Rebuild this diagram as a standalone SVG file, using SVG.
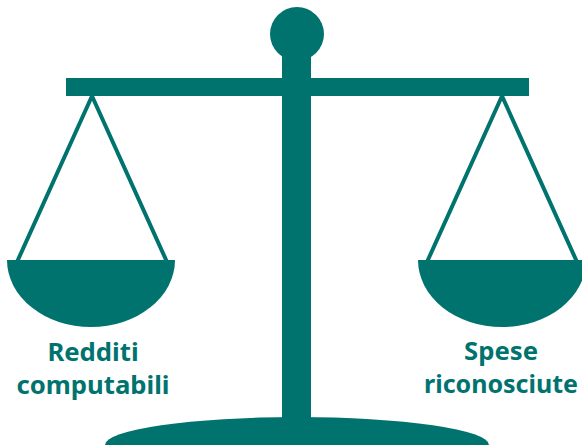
<svg xmlns="http://www.w3.org/2000/svg" width="582" height="445" viewBox="0 0 582 445">
<style>
.f{fill:#00736f}
.l{fill:none;stroke:#00736f;stroke-width:4}
text{font-family:"Noto Sans","Open Sans",sans-serif;font-weight:700;font-size:25.7px;fill:#00736f;text-anchor:middle}
</style>
<g id="base"><ellipse class="f" cx="297" cy="445" rx="192" ry="28"/></g>
<g id="column"><rect class="f" x="282" y="40" width="29" height="390"/><circle class="f" cx="297" cy="34" r="27"/></g>
<g id="beam"><rect class="f" x="66" y="78" width="463" height="18"/></g>
<g id="left-pan"><path class="l" d="M17 262L92 96L167 262"/><path class="f" d="M7 260H175A84 67 0 0 1 7 260Z"/>
<text x="93" y="361">Redditi</text><text x="93" y="394">computabili</text></g>
<g id="right-pan"><path class="l" d="M427 262L502 96L577 262"/><path class="f" d="M418 260H586A84 67 0 0 1 418 260Z"/>
<text x="501" y="359.500">Spese</text><text x="501" y="393" style="font-size:25px">riconosciute</text></g>
</svg>
